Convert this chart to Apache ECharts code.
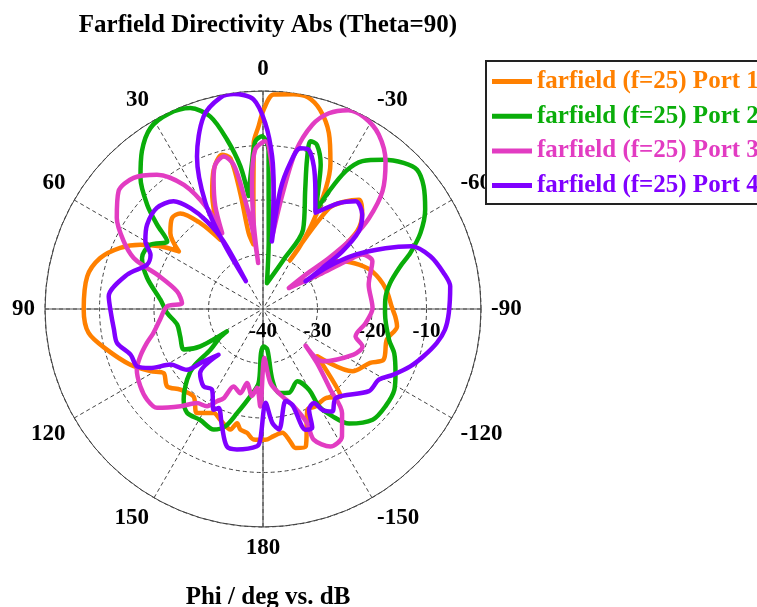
<!DOCTYPE html>
<html>
<head>
<meta charset="utf-8">
<script src="https://cdn.jsdelivr.net/npm/echarts@6/dist/echarts.min.js"></script>
<style>
  html, body { margin: 0; padding: 0; background: #fff; }
  #chart { width: 757px; height: 607px; }
</style>
</head>
<body>
<div id="chart"></div>
<script>
// Farfield directivity cuts at Theta = 90, one closed trace per port: [phi (deg), directivity (dB)]
const port1 = [[8.5,-28],[3.2,-9.5],[1.4,-6.5],[-0.2,-3.4],[-2.8,-0.6],[-8,-0.2],[-12,-0.3],[-16,-2],[-20.5,-5.5],[-24.8,-10.5],[-27.5,-15],[-30,-22],[-30.5,-27],[-29,-29.8],[-33.2,-17.9],[-37.5,-15.1],[-41.3,-13.3],[-46,-14.7],[-50.4,-17.6],[-54.2,-25],[-59,-23],[-65.2,-20.6],[-71,-18.8],[-80.3,-17.2],[-89.6,-16.3],[-93.2,-15.7],[-97.4,-15.2],[-103.9,-16.6],[-112.8,-16],[-116.7,-18],[-124.9,-20],[-131.1,-26.8],[-138.4,-18.5],[-144.8,-20],[-151.6,-19.7],[-156.2,-19.8],[-162.7,-13.6],[-166.8,-13.8],[-168.7,-15.5],[-171.1,-17],[-175.2,-16.6],[-179,-16],[175.9,-16],[172.6,-17.1],[169.4,-17.5],[167.2,-18.5],[164.9,-17.1],[158.9,-18.2],[154.6,-18.9],[147.6,-17.4],[141.6,-19.5],[134.3,-18.8],[128.9,-17.4],[122.8,-18.3],[118.9,-16.4],[112.8,-13.6],[104.6,-10.4],[97.8,-7.7],[90.2,-7.1],[79.5,-7.2],[72.6,-8.7],[66.8,-11.5],[62.3,-14.6],[58.6,-17.9],[55.6,-21.3],[50.6,-18],[45,-16.4],[40.9,-16.8],[36.1,-20.5],[31.6,-25.1],[23.7,-16.8],[19.5,-12.9],[14.9,-10.7],[12.2,-11.7],[11.1,-18.3],[10.7,-25.8],[8.5,-28]];

const port2 = [[7.3,-19.1],[4.3,-13.1],[2.6,-9.2],[0.3,-8.3],[-2,-10.8],[-2.7,-18.1],[-4.7,-27.2],[-8.7,-35.2],[-22.7,-30.2],[-26.8,-23.7],[-19.5,-16.8],[-16.4,-11.4],[-15.8,-8],[-18.2,-8.3],[-21.8,-11.5],[-24.2,-15],[-28.3,-19.6],[-29.3,-15.2],[-31,-10.5],[-33.9,-7.3],[-38.9,-4.8],[-43.9,-2.8],[-47.9,-1.9],[-52.6,-2.9],[-58.5,-5.1],[-64.2,-7.9],[-69.2,-11.1],[-72.7,-13.6],[-78.5,-16.2],[-85.6,-17.5],[-91.9,-17.6],[-103.7,-16.2],[-108.6,-14.6],[-115.8,-13],[-121.6,-11.7],[-128.4,-11.3],[-135.3,-11.4],[-143.1,-13.7],[-147.1,-16.6],[-150.1,-19.4],[-150.3,-22.9],[-154.6,-25.3],[-162.8,-23.9],[-169.2,-24.3],[-172.5,-26.9],[-173.9,-32.5],[-179,-33.1],[177.4,-31.9],[176.6,-26.4],[171.7,-23.8],[166,-20.3],[162.2,-17.4],[157.8,-16.1],[150.5,-16.6],[143.8,-16.4],[138.8,-17.9],[132.9,-21],[129.6,-23.5],[127.7,-27.8],[123.5,-30.5],[121.8,-32.2],[120.8,-26.6],[117.1,-23.7],[108.3,-24],[100.3,-24],[92.4,-22.4],[84.8,-21.1],[75,-18],[67.1,-15.9],[60.3,-16.2],[54.8,-18.5],[51.5,-15.2],[48,-11.4],[43.1,-7.1],[37.5,-3.5],[31.9,-0.9],[25.9,-0.2],[19.9,-0.8],[15.3,-3.4],[12,-8.2],[9,-13.5],[7.3,-19.1]];

const port3 = [[28.3,-24.2],[24.9,-19.2],[20.9,-14.6],[18.3,-12.1],[14.4,-11.1],[11.5,-13],[9.6,-18.7],[7.2,-26.2],[6,-31.5],[6.2,-24.1],[5,-16.8],[2.8,-10.7],[-0.8,-9.2],[-3.6,-13.8],[-5.6,-19.8],[-7.5,-26],[-9.6,-18.7],[-11.7,-10.5],[-15,-5],[-18.6,-2.1],[-23.2,-0.3],[-27.8,-0.2],[-33.6,-1.6],[-39.7,-4.8],[-45.4,-9.2],[-49.4,-14.4],[-51.5,-19.1],[-52.3,-24.7],[-51.2,-30],[-51,-33.9],[-58.8,-27.3],[-60.2,-21.8],[-61.3,-19.2],[-66.4,-18.1],[-77.1,-20.1],[-89.5,-19.9],[-97.8,-21],[-106.4,-22.3],[-110.6,-20.5],[-116.7,-21.4],[-131.4,-25.5],[-130.7,-29.7],[-135,-26],[-140.1,-20.7],[-142.8,-16],[-148.2,-12.5],[-153.9,-11.9],[-158.8,-14.3],[-158.9,-17.6],[-162.5,-21.3],[-168.6,-24],[-174.3,-26.4],[-178.4,-31],[178.4,-22.1],[175.7,-25.5],[172.8,-23.9],[167.8,-26.1],[164.9,-24],[159.2,-24.8],[156.2,-22.1],[153.5,-21.1],[150.1,-19.4],[144.9,-18.9],[139.7,-16.6],[133,-13.4],[128,-13],[122.2,-13.4],[115.7,-14.3],[111,-15.9],[106.3,-17.8],[102.4,-19.4],[95.9,-21],[88.4,-22.4],[85.8,-25.1],[78.4,-23.9],[72,-19.6],[70.5,-17.4],[68.5,-14.5],[64.1,-11.6],[58.1,-8.4],[50.8,-5.8],[44.6,-6.2],[38.3,-8.6],[32.5,-13],[29,-18.8],[28.3,-24.2]];

const port4 = [[31.6,-34],[30.8,-25.9],[28.5,-17.9],[23.4,-9.5],[17.1,-3],[11.3,-0.4],[7.7,-0.2],[2.6,-1.5],[-0.7,-5.9],[-3.4,-11.9],[-5.1,-18],[-6.5,-24],[-7.5,-27.5],[-8.3,-17.9],[-10.6,-12.7],[-13.1,-9.7],[-16,-9.6],[-19.6,-12.2],[-23.7,-16.1],[-28.6,-19.9],[-35.6,-16.1],[-40.7,-13.9],[-46.5,-14.9],[-51,-17.4],[-54,-22],[-55.4,-26.8],[-57,-30.7],[-57.1,-25.6],[-59.6,-20.3],[-63.6,-14.9],[-67.1,-10.4],[-72.5,-7.8],[-78.7,-6.2],[-83.1,-5.4],[-91.2,-5.9],[-96.5,-6.4],[-101,-7.5],[-106.4,-9.3],[-111.3,-11],[-116.7,-13.2],[-121.4,-15.1],[-127.8,-15.4],[-140.8,-18.9],[-145.9,-17.3],[-149.5,-18.5],[-151.5,-20.4],[-155.4,-19.7],[-157.5,-16.4],[-160.5,-16.5],[-163,-21.6],[-166.2,-22.6],[-172.4,-17.7],[-175.3,-19],[-178.4,-22.8],[178.8,-16],[177.5,-14.8],[169.5,-13.8],[165.3,-13.9],[160.7,-17.2],[155.9,-20.1],[153.9,-19.4],[147.7,-22.5],[142.5,-22.1],[135.6,-23.5],[135.8,-28.3],[131.4,-25.5],[128.6,-22.1],[121,-20.2],[117.6,-16.6],[114.5,-14.6],[109,-14.3],[103.1,-12.5],[97.9,-12.4],[90.3,-12],[85.3,-11.6],[75.8,-14.3],[69.1,-17.2],[64.3,-17.1],[60.1,-15.1],[54,-13.7],[46.4,-13.1],[39.7,-14.3],[35.7,-17.2],[32.6,-20.9],[30.2,-25.6],[31.6,-34]];

const seriesNames = ['farfield (f=25) Port 1', 'farfield (f=25) Port 2', 'farfield (f=25) Port 3', 'farfield (f=25) Port 4'];
const seriesColors = ['#ff8000', '#0aad0a', '#e23cc2', '#8000ff'];
const traces = [port1, port2, port3, port4];

const radiusTicks = { min: -40, max: 0, step: 10 };
const titleText = 'Farfield Directivity Abs (Theta=90)';
const axisTitleText = 'Phi / deg vs. dB';

const SERIF = '"Liberation Serif", "Times New Roman", serif';
const CENTER = [263, 309];
const RADIUS = 218;

// Angle axis runs counter-clockwise from the east; phi = 0 sits at the top.
const toAngle = phi => (((phi + 90) % 360) + 360) % 360;
const angleLabel = v => {
  let p = Math.round(v) - 90;
  if (p > 180) p -= 360;
  return String(p);
};

const chart = echarts.init(document.getElementById('chart'), null, { renderer: 'canvas' });

chart.setOption({
  animation: false,
  backgroundColor: '#ffffff',
  title: [
    { text: titleText, left: 263, top: 8, textAlign: 'center',
      textStyle: { fontFamily: SERIF, fontWeight: 'bold', fontSize: 25, color: '#000' } },
    { text: axisTitleText, left: 263, top: 580, textAlign: 'center',
      textStyle: { fontFamily: SERIF, fontWeight: 'bold', fontSize: 25, color: '#000' } }
  ],
  legend: {
    orient: 'vertical',
    left: 486,
    top: 61,
    padding: [8, 8, 6, 6],
    itemGap: 9.7,
    itemWidth: 40,
    itemHeight: 5,
    icon: 'rect',
    borderColor: '#222',
    borderWidth: 2,
    backgroundColor: '#fff',
    data: seriesNames.map((n, i) => ({ name: n, textStyle: { color: seriesColors[i] } })),
    textStyle: { fontFamily: SERIF, fontWeight: 'bold', fontSize: 25 }
  },
  polar: [
    { center: CENTER, radius: RADIUS },
    { center: CENTER, radius: RADIUS }
  ],
  angleAxis: [
    {
      polarIndex: 0, type: 'value', min: 0, max: 360, interval: 30,
      startAngle: 0, clockwise: false,
      axisLine: { show: true, lineStyle: { color: '#444', width: 1 } },
      axisTick: { show: false },
      axisLabel: { show: true, margin: 10, formatter: angleLabel,
        fontFamily: SERIF, fontWeight: 'bold', fontSize: 23, color: '#000' },
      splitLine: { show: true, lineStyle: { color: '#444', width: 1, type: [4, 3] } }
    },
    {
      polarIndex: 1, type: 'value', min: 0, max: 360, interval: 90,
      startAngle: 0, clockwise: false,
      axisLine: { show: false }, axisTick: { show: false }, axisLabel: { show: false },
      splitLine: { show: true, lineStyle: { color: '#555', width: 1.2, type: 'solid' } }
    }
  ],
  radiusAxis: [
    {
      polarIndex: 0, type: 'value', min: radiusTicks.min, max: radiusTicks.max, interval: radiusTicks.step,
      axisLine: { show: false }, axisTick: { show: false },
      // tick labels sit just below the eastward radius line
      axisLabel: { show: true, margin: -12, verticalAlign: 'top', showMaxLabel: false,
        fontFamily: SERIF, fontWeight: 'bold', fontSize: 21, color: '#000' },
      splitLine: { show: true, lineStyle: { color: '#444', width: 1, type: [4, 3] } }
    },
    {
      polarIndex: 1, type: 'value', min: radiusTicks.min, max: radiusTicks.max, interval: radiusTicks.step,
      axisLine: { show: false }, axisTick: { show: false }, axisLabel: { show: false },
      splitLine: { show: false }
    }
  ],
  series: traces.map((trace, i) => ({
    name: seriesNames[i],
    type: 'line',
    coordinateSystem: 'polar',
    polarIndex: 0,
    showSymbol: false,
    smooth: 0.3,
    clip: false,
    lineStyle: { color: seriesColors[i], width: 4.5, join: 'round', cap: 'round' },
    itemStyle: { color: seriesColors[i] },
    data: trace.map(([phi, db]) => [db, toAngle(phi)])
  }))
});
</script>
</body>
</html>
